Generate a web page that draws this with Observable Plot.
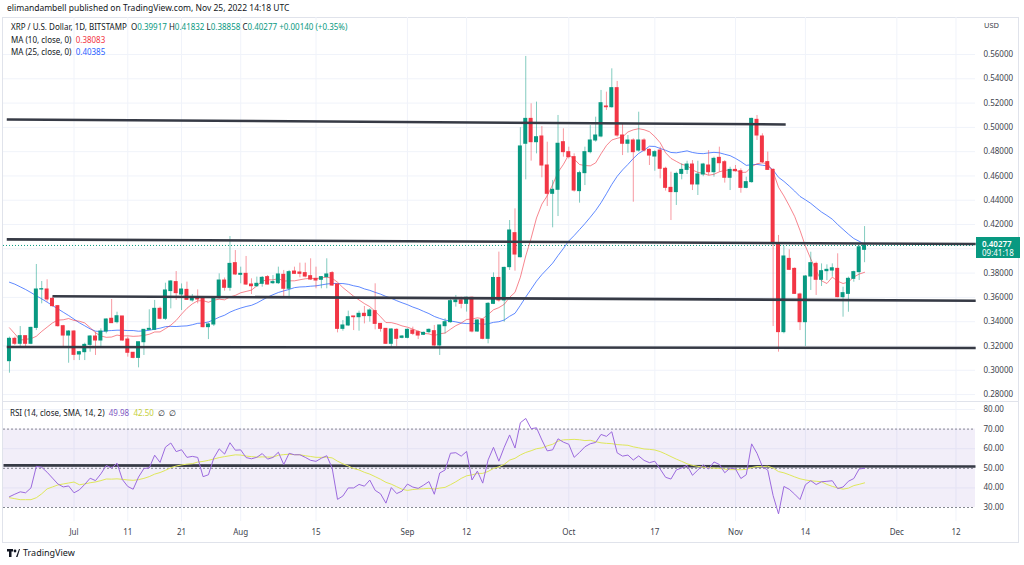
<!DOCTYPE html>
<html><head><meta charset="utf-8">
<script src="https://cdn.jsdelivr.net/npm/d3@7"></script>
<script src="https://cdn.jsdelivr.net/npm/@observablehq/plot@0.6"></script>
<style>
body{margin:0;background:#fff;font-family:"Noto Sans","Open Sans",sans-serif;color:#131722;}
#root{position:relative;width:1024px;height:565px;overflow:hidden;background:#fff;}
.abs{position:absolute;white-space:nowrap;line-height:1;}
</style></head><body><div id="root"></div>
<script>
// ---------- data ----------
const firstDay = "2022-06-19"; // 160 daily candles, Jun 19 – Nov 25 2022
const opens = [.3075,.3259,.3218,.3281,.3218,.3349,.3665,.3665,.3588,.3528,.3363,.3286,.3319,.3130,.3149,.3209,.3278,.3245,.3319,.3424,
.3396,.3443,.3253,.3144,.3102,.3231,.3333,.3333,.3506,.3424,.3652,.3726,.3624,.3662,.3575,.3594,.3588,.3355,.3377,.3594,
.3739,.3679,.3882,.3786,.3794,.3706,.3692,.3712,.3767,.3717,.3717,.3786,.3671,.3813,.3805,.3800,.3775,.3753,.3745,.3767,
.3800,.3706,.3341,.3369,.3443,.3437,.3465,.3446,.3487,.3382,.3341,.3218,.3333,.3267,.3267,.3327,.3314,.3292,.3314,.3322,
.3204,.3363,.3396,.3561,.3575,.3547,.3597,.3319,.3415,.3259,.3547,.3760,.3575,.3849,.4129,.3931,.4865,.5070,.4878,.4925,
.4686,.4453,.4486,.4878,.4796,.4755,.4475,.4623,.4796,.4892,.4925,.5172,.5166,.5323,.4933,.4865,.4892,.4809,.4892,.4815,
.4760,.4809,.4659,.4502,.4467,.4617,.4650,.4694,.4530,.4612,.4686,.4631,.4749,.4713,.4585,.4650,.4639,.4502,.4549,.5062,
.4925,.4714,.4650,.4047,.3314,.3917,.3835,.3624,.3396,.3772,.3876,.3745,.3816,.3821,.3835,.3602,.3629,.3753,.3808,.39917];
const highs = [.3273,.3273,.3360,.3281,.3355,.3871,.3731,.3745,.3602,.3534,.3370,.3327,.3327,.3155,.3223,.3286,.3314,.3341,.3424,.3583,
.3478,.3443,.3273,.3144,.3231,.3333,.3498,.3575,.3520,.3717,.3739,.3813,.3711,.3726,.3624,.3662,.3588,.3388,.3602,.3794,
.3760,.4101,.3986,.3849,.3937,.3753,.3767,.3772,.3780,.3780,.3849,.3822,.3822,.3849,.3882,.3882,.3918,.3849,.3772,.3918,
.3813,.3706,.3410,.3487,.3443,.3487,.3525,.3506,.3712,.3382,.3341,.3341,.3341,.3286,.3341,.3355,.3322,.3314,.3341,.3369,
.3369,.3424,.3588,.3616,.3602,.3602,.3602,.3415,.3424,.3558,.3802,.3973,.3849,.4233,.4329,.4997,.5584,.5194,.5208,.5007,
.4878,.4563,.5098,.4988,.4837,.4782,.4639,.4837,.5015,.5084,.5304,.5290,.5482,.5378,.5024,.4933,.4906,.5125,.4906,.4823,
.4809,.4837,.4672,.4631,.4631,.4700,.4721,.4727,.4721,.4704,.4809,.4755,.4837,.4727,.4672,.4686,.4659,.4590,.5075,.5098,
.4947,.4796,.4659,.4110,.4019,.3992,.3843,.3635,.3780,.3972,.3890,.3876,.3868,.3876,.3959,.3684,.3767,.3816,.4027,.41832];
const lows = [.2976,.3204,.3196,.3185,.3210,.3327,.3547,.3561,.3520,.3355,.3196,.3058,.3080,.3080,.3080,.3149,.3122,.3196,.3300,.3388,
.3382,.3240,.3108,.3094,.3020,.3122,.3327,.3327,.3416,.3410,.3506,.3575,.3492,.3575,.3561,.3547,.3349,.3253,.3360,.3588,
.3651,.3651,.3780,.3712,.3698,.3624,.3684,.3684,.3703,.3706,.3706,.3607,.3588,.3789,.3761,.3761,.3739,.3671,.3671,.3671,
.3690,.3308,.3322,.3360,.3327,.3322,.3382,.3396,.3333,.3314,.3212,.3185,.3196,.3259,.3259,.3286,.3253,.3286,.3300,.3177,
.3122,.3300,.3388,.3520,.3506,.3479,.3308,.3314,.3251,.3218,.3541,.3561,.3396,.3822,.3816,.3925,.4568,.4722,.4782,.4585,
.4349,.4173,.4266,.4755,.4740,.4467,.4376,.4521,.4782,.4878,.4914,.5139,.5158,.4919,.4768,.4788,.4384,.4796,.4796,.4686,
.4639,.4576,.4475,.4233,.4357,.4568,.4612,.4480,.4439,.4594,.4604,.4590,.4631,.4541,.4480,.4631,.4458,.4494,.4541,.4892,
.4700,.4645,.3360,.3149,.3300,.3821,.3624,.3327,.3196,.3657,.3616,.3690,.3738,.3767,.3597,.3437,.3478,.3725,.3739,.38858];
const closes = [.3259,.3218,.3281,.3218,.3349,.3665,.3668,.3583,.3528,.3363,.3286,.3319,.3127,.3149,.3209,.3278,.3245,.3319,.3418,.3388,
.3445,.3245,.3144,.3102,.3231,.3333,.3341,.3506,.3424,.3657,.3731,.3635,.3665,.3580,.3594,.3583,.3355,.3377,.3594,.3739,
.3679,.3876,.3789,.3794,.3706,.3692,.3712,.3761,.3706,.3726,.3789,.3671,.3808,.3794,.3794,.3772,.3747,.3739,.3767,.3789,
.3698,.3341,.3369,.3437,.3437,.3465,.3446,.3492,.3382,.3341,.3218,.3336,.3259,.3278,.3333,.3300,.3286,.3308,.3333,.3204,
.3369,.3396,.3569,.3575,.3547,.3597,.3319,.3410,.3259,.3547,.3760,.3575,.3843,.4151,.3953,.4843,.5070,.4878,.4919,.4686,
.4453,.4486,.4865,.4796,.4755,.4480,.4623,.4796,.4892,.4933,.5199,.5166,.5323,.4933,.4865,.4892,.4796,.4892,.4809,.4768,
.4796,.4659,.4502,.4467,.4617,.4650,.4694,.4530,.4612,.4694,.4631,.4741,.4705,.4585,.4650,.4639,.4502,.4549,.5070,.4933,
.4714,.4650,.4047,.3314,.3937,.3827,.3629,.3396,.3772,.3882,.3745,.3816,.3827,.3840,.3602,.3635,.3753,.3808,.4013,.40277];
// moving averages before enough history exists
const ma10Early = [.3350,.3300,.3248,.3255,.3260,.3280,.3320,.3355,.3390];
const ma25Early = [.3725,.3709,.3687,.3665,.3640,.3613,.3588,.3561,.3533,.3506,.3478,.3451,.3421,.3391,.3366,.3341,.3322,.3319,.3325,.3327,.3330,.3330,.3327,.3327];
const rsiEarly = [35.5,36.8,38,37.5,40,51,50.5,48,45,42,40.5,41,37.5,39];
const rsiMaEarly = [35,34.5,34,34,34,35,37,39.5,40.5,41.5,42,42.5,43];
// drawn levels
const levelX1 = ["2022-06-18T12:00Z","2022-06-18T12:00Z","2022-06-27T00:00Z","2022-06-18T12:00Z"];
const levelX2 = ["2022-11-10T08:00Z","2022-12-15T16:00Z","2022-12-15T16:00Z","2022-12-15T16:00Z"];
const levelY1 = [0.5065,0.4078,0.3610,0.3192];
const levelY2 = [0.5024,0.4040,0.3573,0.3183];
const rsiLevelY = [51.5,50.9];
// axes
const priceTicks = [0.28,0.30,0.32,0.34,0.36,0.38,0.40,0.42,0.44,0.46,0.48,0.50,0.52,0.54,0.56];
const hiddenPriceLabel = 0.40; // covered by the last-price tag in the reference
const rsiTicks = [30,40,50,60,70,80];
const tickDates = ["2022-07-01","2022-07-11","2022-07-21","2022-08-01","2022-08-15","2022-09-01","2022-09-12","2022-10-01","2022-10-17","2022-11-01","2022-11-14","2022-12-01","2022-12-12"];
const tickLabels = ["Jul","11","21","Aug","15","Sep","12","Oct","17","Nov","14","Dec","12"];
const headerText = "elimandambell published on TradingView.com, Nov 25, 2022 14:18 UTC";
const symbolText = "XRP / U.S. Dollar, 1D, BITSTAMP";
const changeText = "+0.00140 (+0.35%)";
const ma10Legend = "0.38083", ma25Legend = "0.40385";
const rsiLegend = ["49.98","42.50"];
const timerText = "09:41:18";

// ---------- build ----------
const GREEN = "#089981", RED = "#f23645";
const DAY = 864e5;
const t0 = Date.parse(firstDay + "T00:00Z");
const rows = closes.map((c, i) => {
  const ma10 = i < 9 ? ma10Early[i] : d3.mean(closes.slice(i - 9, i + 1));
  const ma25 = i < 24 ? ma25Early[i] : d3.mean(closes.slice(i - 24, i + 1));
  return {date: new Date(t0 + i * DAY), open: opens[i], high: highs[i], low: lows[i], close: c, ma10, ma25};
});
// RSI(14) Wilder, seeded from the value read at the first visible stretch
const rsi = rsiEarly.slice();
{
  const n0 = rsiEarly.length - 1;
  const m = d3.mean(d3.range(1, n0 + 1), i => Math.abs(closes[i] - closes[i - 1]));
  let ag = m * rsiEarly[n0] / 100, al = m * (1 - rsiEarly[n0] / 100);
  for (let i = n0 + 1; i < closes.length; i++) {
    const ch = closes[i] - closes[i - 1];
    ag = (ag * 13 + Math.max(ch, 0)) / 14;
    al = (al * 13 + Math.max(-ch, 0)) / 14;
    rsi.push(100 * ag / (ag + al));
  }
}
rows.forEach((r, i) => {
  r.rsi = rsi[i];
  r.rsiMa = i < rsiMaEarly.length ? rsiMaEarly[i] : d3.mean(rsi.slice(i - 13, i + 1));
});
const up = rows.filter(d => d.close >= d.open), down = rows.filter(d => d.close < d.open);
const last = rows[rows.length - 1];
const xDomain = [new Date(Date.UTC(2022,6,1) - (73.5 - 3) / 5.378 * DAY), new Date(Date.UTC(2022,6,1) + (975 - 73.5) / 5.378 * DAY)];
const tickD = tickDates.map(s => new Date(s + "T00:00Z"));
const labelOf = new Map(tickD.map((d, i) => [+d, tickLabels[i]]));
const levels = levelY1.map((y, i) => ({x1: new Date(levelX1[i]), x2: new Date(levelX2[i]), y1: y, y2: levelY2[i]}));
const half = 0.37 * DAY;
const FONT = "'Noto Sans','Open Sans',sans-serif";
const GRID = "#f0f3fa";

const candleMarks = (data, color) => [
  Plot.ruleX(data, {x: "date", y1: "low", y2: "high", stroke: color, strokeOpacity: 0.5, strokeWidth: 1}),
  Plot.rect(data, {x1: d => new Date(+d.date - half), x2: d => new Date(+d.date + half),
    y1: d => Math.min(d.open, d.close), y2: d => Math.max(d.open, d.close), fill: color, insetTop: -0.5, insetBottom: -0.5})
];

const pricePlot = Plot.plot({
  width: 1024, height: 384, marginLeft: 3, marginRight: 49, marginTop: 0, marginBottom: 0,
  x: {type: "utc", domain: xDomain, axis: null},
  y: {domain: [0.27429, 0.59047], axis: null},
  style: {background: "transparent", fontFamily: FONT, fontSize: "8px", overflow: "visible"},
  marks: [
    Plot.gridY(priceTicks, {stroke: GRID, strokeOpacity: 1}),
    Plot.gridX(tickD, {stroke: GRID, strokeOpacity: 1}),
    Plot.ruleY([last.close], {stroke: GREEN, strokeDasharray: "1,2", strokeWidth: 1}),
    Plot.line(rows, {x: "date", y: "ma25", stroke: "#2962ff", strokeWidth: 1, strokeOpacity: 0.75}),
    Plot.line(rows, {x: "date", y: "ma10", stroke: "#f23645", strokeWidth: 1, strokeOpacity: 0.6}),
    ...candleMarks(up, GREEN),
    ...candleMarks(down, RED),
    Plot.link(levels, {x1: "x1", y1: "y1", x2: "x2", y2: "y2", stroke: "#363a45", strokeWidth: 2.6, strokeLinecap: "butt"}),
    Plot.axisY(priceTicks.filter(t => Math.abs(t - hiddenPriceLabel) > 1e-9), {anchor: "right", tickSize: 0, tickPadding: 8, tickFormat: d => d.toFixed(5), fill: "#40434d", fontSize: 8})
  ]
});

const rsiPlot = Plot.plot({
  width: 1024, height: 144, marginLeft: 3, marginRight: 49, marginTop: 0, marginBottom: 24,
  x: {type: "utc", domain: xDomain, axis: null},
  y: {domain: [22.86, 84.08], axis: null},
  style: {background: "transparent", fontFamily: FONT, fontSize: "8px", overflow: "visible"},
  marks: [
    Plot.gridY([40, 60, 80], {stroke: GRID, strokeOpacity: 1}),
    Plot.gridX(tickD, {stroke: GRID, strokeOpacity: 1}),
    Plot.rect([0], {x1: () => xDomain[0], x2: () => xDomain[1], y1: 30, y2: 70, fill: "#7e57c2", fillOpacity: 0.1}),
    Plot.ruleY([30, 50, 70], {stroke: "#787b86", strokeDasharray: "2,2", strokeOpacity: 0.9}),
    Plot.link([0], {x1: () => xDomain[0], x2: () => xDomain[1], y1: () => rsiLevelY[0], y2: () => rsiLevelY[1], stroke: "#363a45", strokeWidth: 2.6}),
    Plot.line(rows, {x: "date", y: "rsiMa", stroke: "#dfe75a", strokeWidth: 1}),
    Plot.line(rows, {x: "date", y: "rsi", stroke: "#9c6ade", strokeWidth: 1}),
    Plot.axisY(rsiTicks, {anchor: "right", tickSize: 0, tickPadding: 8, tickFormat: d => d.toFixed(2), fill: "#40434d", fontSize: 8}),
    Plot.axisX(tickD, {anchor: "bottom", tickSize: 0, tickPadding: 8, tickFormat: d => labelOf.get(+d), fill: "#40434d", fontSize: 8})
  ]
});

const root = document.getElementById("root");
function div(style, html) { const e = document.createElement("div"); e.className = "abs"; e.style.cssText = style; if (html != null) e.innerHTML = html; root.appendChild(e); return e; }
// frame
div("left:2px;top:17px;width:1017px;height:526px;border:1px solid #e0e3eb;box-sizing:border-box;");
div("left:3px;top:401px;width:1016px;height:1px;background:#e0e3eb;");
const p1 = div("left:0;top:17px;"); p1.appendChild(pricePlot);
const p2 = div("left:0;top:401px;"); p2.appendChild(rsiPlot);
// texts
div("left:7px;top:4px;font-size:8.5px;color:#131722;", headerText);
const g = `color:${GREEN}`;
div("left:11px;top:23px;font-size:8px;color:#131722;",
  `${symbolText}&nbsp; O<span style="${g}">${last.open.toFixed(5)}</span> H<span style="${g}">${last.high.toFixed(5)}</span> L<span style="${g}">${last.low.toFixed(5)}</span> C<span style="${g}">${last.close.toFixed(5)}</span> <span style="${g}">${changeText}</span>`);
div("left:11px;top:36px;font-size:8px;color:#131722;", `MA (10, close, 0)&nbsp; <span style="color:${RED}">${ma10Legend}</span>`);
div("left:11px;top:48px;font-size:8px;color:#131722;", `MA (25, close, 0)&nbsp; <span style="color:#2962ff">${ma25Legend}</span>`);
div("left:984px;top:22px;font-size:7.5px;color:#40434d;", "USD");
div("left:10px;top:409px;font-size:8px;color:#131722;", `RSI (14, close, SMA, 14, 2)&nbsp; <span style="color:#7e57c2">${rsiLegend[0]}</span>&nbsp; <span style="color:#c5cf3a">${rsiLegend[1]}</span>&nbsp; ∅&nbsp; ∅`);
// price label box
div(`left:976px;top:237px;width:44px;height:21px;background:${GREEN};color:#fff;font-size:8px;padding:2px 0 0 6px;box-sizing:border-box;line-height:9px;`,
  `<b style="font-weight:600">${last.close.toFixed(5)}</b><br>${timerText}`);
// logo
div("left:7px;top:548px;font-size:9px;color:#131722;display:flex;align-items:center;gap:3px;",
  `<svg width="13" height="8" viewBox="0 0 13 8"><rect x="0" y="0" width="6" height="2.5" fill="#131722"/><rect x="2" y="0" width="2.5" height="8" fill="#131722"/><circle cx="8" cy="2" r="1.4" fill="#131722"/><path d="M9 8 L12 0 H13 L10.5 8Z" fill="#131722"/></svg><span>TradingView</span>`);
</script></body></html>
